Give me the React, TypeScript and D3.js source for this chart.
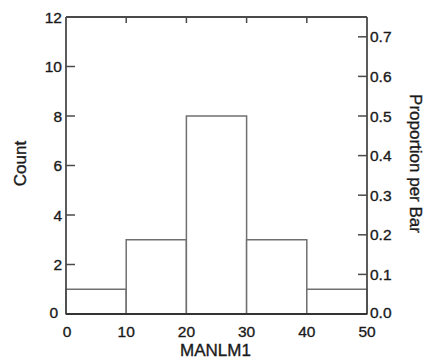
import React from "react";
import * as d3 from "d3";

const binStarts = [0, 10, 20, 30, 40];
const binWidth = 10;
const counts = [1, 3, 8, 3, 1];
const xTicks = [0, 10, 20, 30, 40, 50];
const countTicks = [0, 2, 4, 6, 8, 10, 12];
const propTicks = [0, 0.1, 0.2, 0.3, 0.4, 0.5, 0.6, 0.7];
const xLabel = "MANLM1";
const yLabel = "Count";
const y2Label = "Proportion per Bar";

export default function App() {
  const W = 425, H = 364;
  const L = 66, R = 367, T = 17, B = 314;
  const total = d3.sum(counts);
  const x = d3.scaleLinear().domain([0, 50]).range([L, R]);
  const y = d3.scaleLinear().domain([0, 12]).range([B, T]);
  const yp = d3.scaleLinear().domain([0, 12 / total]).range([B, T]);
  const axisColor = "#4a4a4a";
  const barColor = "#707070";
  const font = "Liberation Sans, Arial, sans-serif";
  const fs = 15.5;
  const tfs = 17;
  const txt = "#1a1a1a";
  const sw = 0.35;
  return (
    <svg width={W} height={H} style={{ position: "absolute", left: 0, top: 0 }}>
      <rect width={W} height={H} fill="#fff" />
      {binStarts.map((s, i) => (
        <rect
          key={i}
          x={x(s)}
          y={y(counts[i])}
          width={x(s + binWidth) - x(s)}
          height={B - y(counts[i])}
          fill="#fff"
          stroke={barColor}
          strokeWidth={1.5}
        />
      ))}
      {/* frame */}
      <line x1={L} x2={L} y1={T} y2={B} stroke={axisColor} strokeWidth={1.8} />
      <line x1={R} x2={R} y1={T} y2={B} stroke={axisColor} strokeWidth={1.8} />
      <line x1={L} x2={R} y1={T} y2={T} stroke={axisColor} strokeWidth={1.8} />
      <line x1={L} x2={R} y1={B} y2={B} stroke="#333" strokeWidth={2} />
      {/* left ticks */}
      {countTicks.map((t) => (
        <g key={"c" + t}>
          {t > 0 && t < 12 && (
            <line x1={L} x2={L + 9} y1={y(t)} y2={y(t)} stroke={axisColor} strokeWidth={1.5} />
          )}
          <text
            x={t === 0 ? L - 8 : L - 4}
            y={y(t)}
            dy={t === 0 ? "0.25em" : "0.36em"}
            textAnchor="end"
            fontFamily={font}
            fontSize={fs}
            fill={txt}
            stroke={txt}
            strokeWidth={sw}
          >
            {t}
          </text>
        </g>
      ))}
      {/* right ticks */}
      {propTicks.map((t) => (
        <g key={"p" + t}>
          {t > 0 && (
            <line x1={R - 9} x2={R} y1={yp(t)} y2={yp(t)} stroke={axisColor} strokeWidth={1.5} />
          )}
          <text
            x={R + 3}
            y={yp(t)}
            dy={t === 0 ? "0.25em" : "0.36em"}
            textAnchor="start"
            fontFamily={font}
            fontSize={fs}
            fill={txt}
            stroke={txt}
            strokeWidth={sw}
          >
            {t.toFixed(1)}
          </text>
        </g>
      ))}
      {/* x ticks */}
      {xTicks.map((t) => (
        <g key={"x" + t}>
          {t > 0 && t < 50 && (
            <line x1={x(t)} x2={x(t)} y1={T} y2={T + 6} stroke={axisColor} strokeWidth={1.5} />
          )}
          <text
            x={x(t) + (t === 0 ? 1 : 0)}
            y={337}
            textAnchor="middle"
            fontFamily={font}
            fontSize={fs}
            fill={txt}
            stroke={txt}
            strokeWidth={sw}
          >
            {t}
          </text>
        </g>
      ))}
      <text x={215.5} y={356} textAnchor="middle" fontFamily={font} fontSize={tfs} fill={txt} stroke={txt} strokeWidth={sw}>
        {xLabel}
      </text>
      <text
        transform={`translate(26,163.5) rotate(-90)`}
        textAnchor="middle"
        fontFamily={font}
        fontSize={tfs}
        fill={txt}
        stroke={txt}
        strokeWidth={sw}
      >
        {yLabel}
      </text>
      <text
        transform={`translate(410,163.5) rotate(90)`}
        textAnchor="middle"
        fontFamily={font}
        fontSize={tfs}
        fill={txt}
        stroke={txt}
        strokeWidth={sw}
      >
        {y2Label}
      </text>
    </svg>
  );
}
